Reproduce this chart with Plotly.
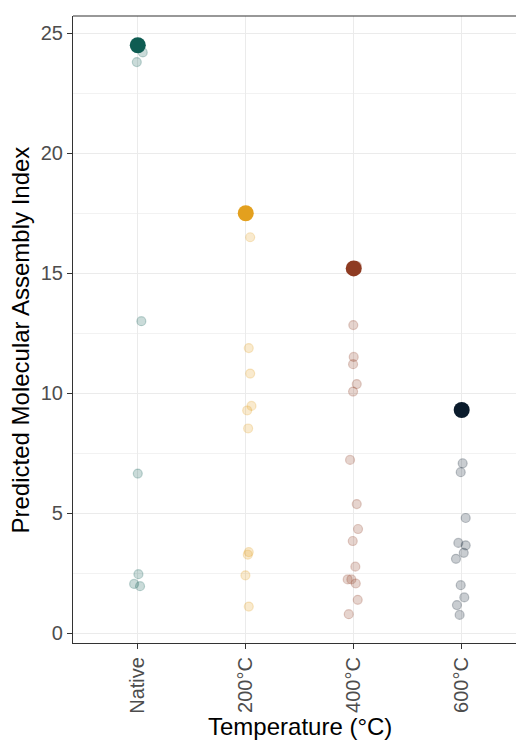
import plotly.graph_objects as go

# Temperature groups and their colours
categories = ["Native", "200°C", "400°C", "600°C"]
group_colors = ["#0E5C52", "#E3A01E", "#8E3B22", "#0B1C2C"]

# Highlighted predicted assembly index for each group
highlight_values = [24.5, 17.5, 15.2, 9.3]

# Individual predictions per group
native_values = [24.2, 23.8, 13.0, 6.65, 2.46, 2.05, 1.96]
c200_values = [16.5, 11.88, 10.82, 9.47, 9.28, 8.53, 3.38, 3.27, 2.41, 1.11]
c400_values = [15.3, 12.84, 11.51, 11.21, 10.38, 10.07, 7.22, 5.38, 4.34,
               3.84, 2.77, 2.24, 2.24, 2.07, 1.39, 0.79]
c600_values = [7.08, 6.71, 4.80, 3.76, 3.66, 3.35, 3.10, 2.00, 1.49, 1.17, 0.76]

# Horizontal jitter (in category units) applied to the individual points
native_jitter = [0.046, -0.009, 0.033, 0.0, 0.006, -0.034, 0.021]
c200_jitter = [0.041, 0.028, 0.041, 0.053, 0.013, 0.022, 0.028, 0.019, -0.003, 0.028]
c400_jitter = [0.03, -0.004, 0.0, -0.006, 0.028, -0.006, -0.034, 0.028, 0.04,
               -0.009, 0.015, -0.056, -0.022, 0.019, 0.037, -0.046]
c600_jitter = [0.009, -0.009, 0.037, -0.031, 0.037, 0.019, -0.053, -0.009,
               0.024, -0.044, -0.019]

group_values = [native_values, c200_values, c400_values, c600_values]
group_jitter = [native_jitter, c200_jitter, c400_jitter, c600_jitter]

y_ticks = [0, 5, 10, 15, 20, 25]


def rgba(hex_color, alpha):
    h = hex_color.lstrip("#")
    r, g, b = int(h[0:2], 16), int(h[2:4], 16), int(h[4:6], 16)
    return f"rgba({r},{g},{b},{alpha})"


FONT = "Liberation Sans, Arial, sans-serif"

fig = go.Figure()

# faint jittered points
for i, (vals, jit, col) in enumerate(zip(group_values, group_jitter, group_colors)):
    pos = i + 1
    fig.add_trace(go.Scatter(
        x=[pos + j for j in jit],
        y=vals,
        mode="markers",
        marker=dict(size=9, color=rgba(col, 0.22),
                    line=dict(color=rgba(col, 0.24), width=1.2)),
        showlegend=False,
        hoverinfo="y",
    ))

# highlighted points on top
fig.add_trace(go.Scatter(
    x=list(range(1, len(categories) + 1)),
    y=highlight_values,
    mode="markers",
    marker=dict(size=16, color=group_colors, line=dict(width=0)),
    showlegend=False,
    hoverinfo="y",
))

fig.update_layout(
    width=516,
    height=740,
    margin=dict(l=73, r=0, t=16, b=97),
    paper_bgcolor="white",
    plot_bgcolor="white",
    font=dict(family=FONT, color="#4D4D4D"),
    xaxis=dict(
        range=[0.4, 4.503],
        tickmode="array",
        tickvals=list(range(1, len(categories) + 1)),
        ticktext=categories,
        tickangle=-90,
        tickfont=dict(size=20, color="#4D4D4D", family=FONT),
        showgrid=True,
        gridcolor="#EBEBEB",
        gridwidth=1.3,
        zeroline=False,
        showline=True,
        linecolor="#333333",
        linewidth=1.2,
        ticks="outside",
        ticklen=5,
        tickcolor="#333333",
        tickwidth=1.2,
    ),
    yaxis=dict(
        range=[-0.41, 25.72],
        tickmode="array",
        tickvals=y_ticks,
        tickfont=dict(size=20, color="#4D4D4D", family=FONT),
        showgrid=True,
        gridcolor="#EBEBEB",
        gridwidth=1.3,
        minor=dict(dtick=2.5, tick0=0, showgrid=True, gridcolor="#F2F2F2",
                   gridwidth=0.8),
        zeroline=False,
        showline=True,
        linecolor="#333333",
        linewidth=1.2,
        ticks="outside",
        ticklen=5,
        tickcolor="#333333",
        tickwidth=1.2,
    ),
    shapes=[
        dict(type="line", xref="paper", yref="paper", x0=0, x1=1, y0=1, y1=1,
             line=dict(color="#333333", width=1.2)),
    ],
    annotations=[
        dict(text="Predicted Molecular Assembly Index", xref="paper", yref="paper",
             x=0, y=0.5, xanchor="center", yanchor="middle", xshift=-53,
             yshift=-11, textangle=-90, showarrow=False,
             font=dict(size=24, color="black", family=FONT)),
        dict(text="Temperature (°C)", xref="x", yref="paper",
             x=2.5, y=0, xanchor="center", yanchor="middle", yshift=-83,
             showarrow=False,
             font=dict(size=24, color="black", family=FONT)),
    ],
)

fig.write_html("out.html")
